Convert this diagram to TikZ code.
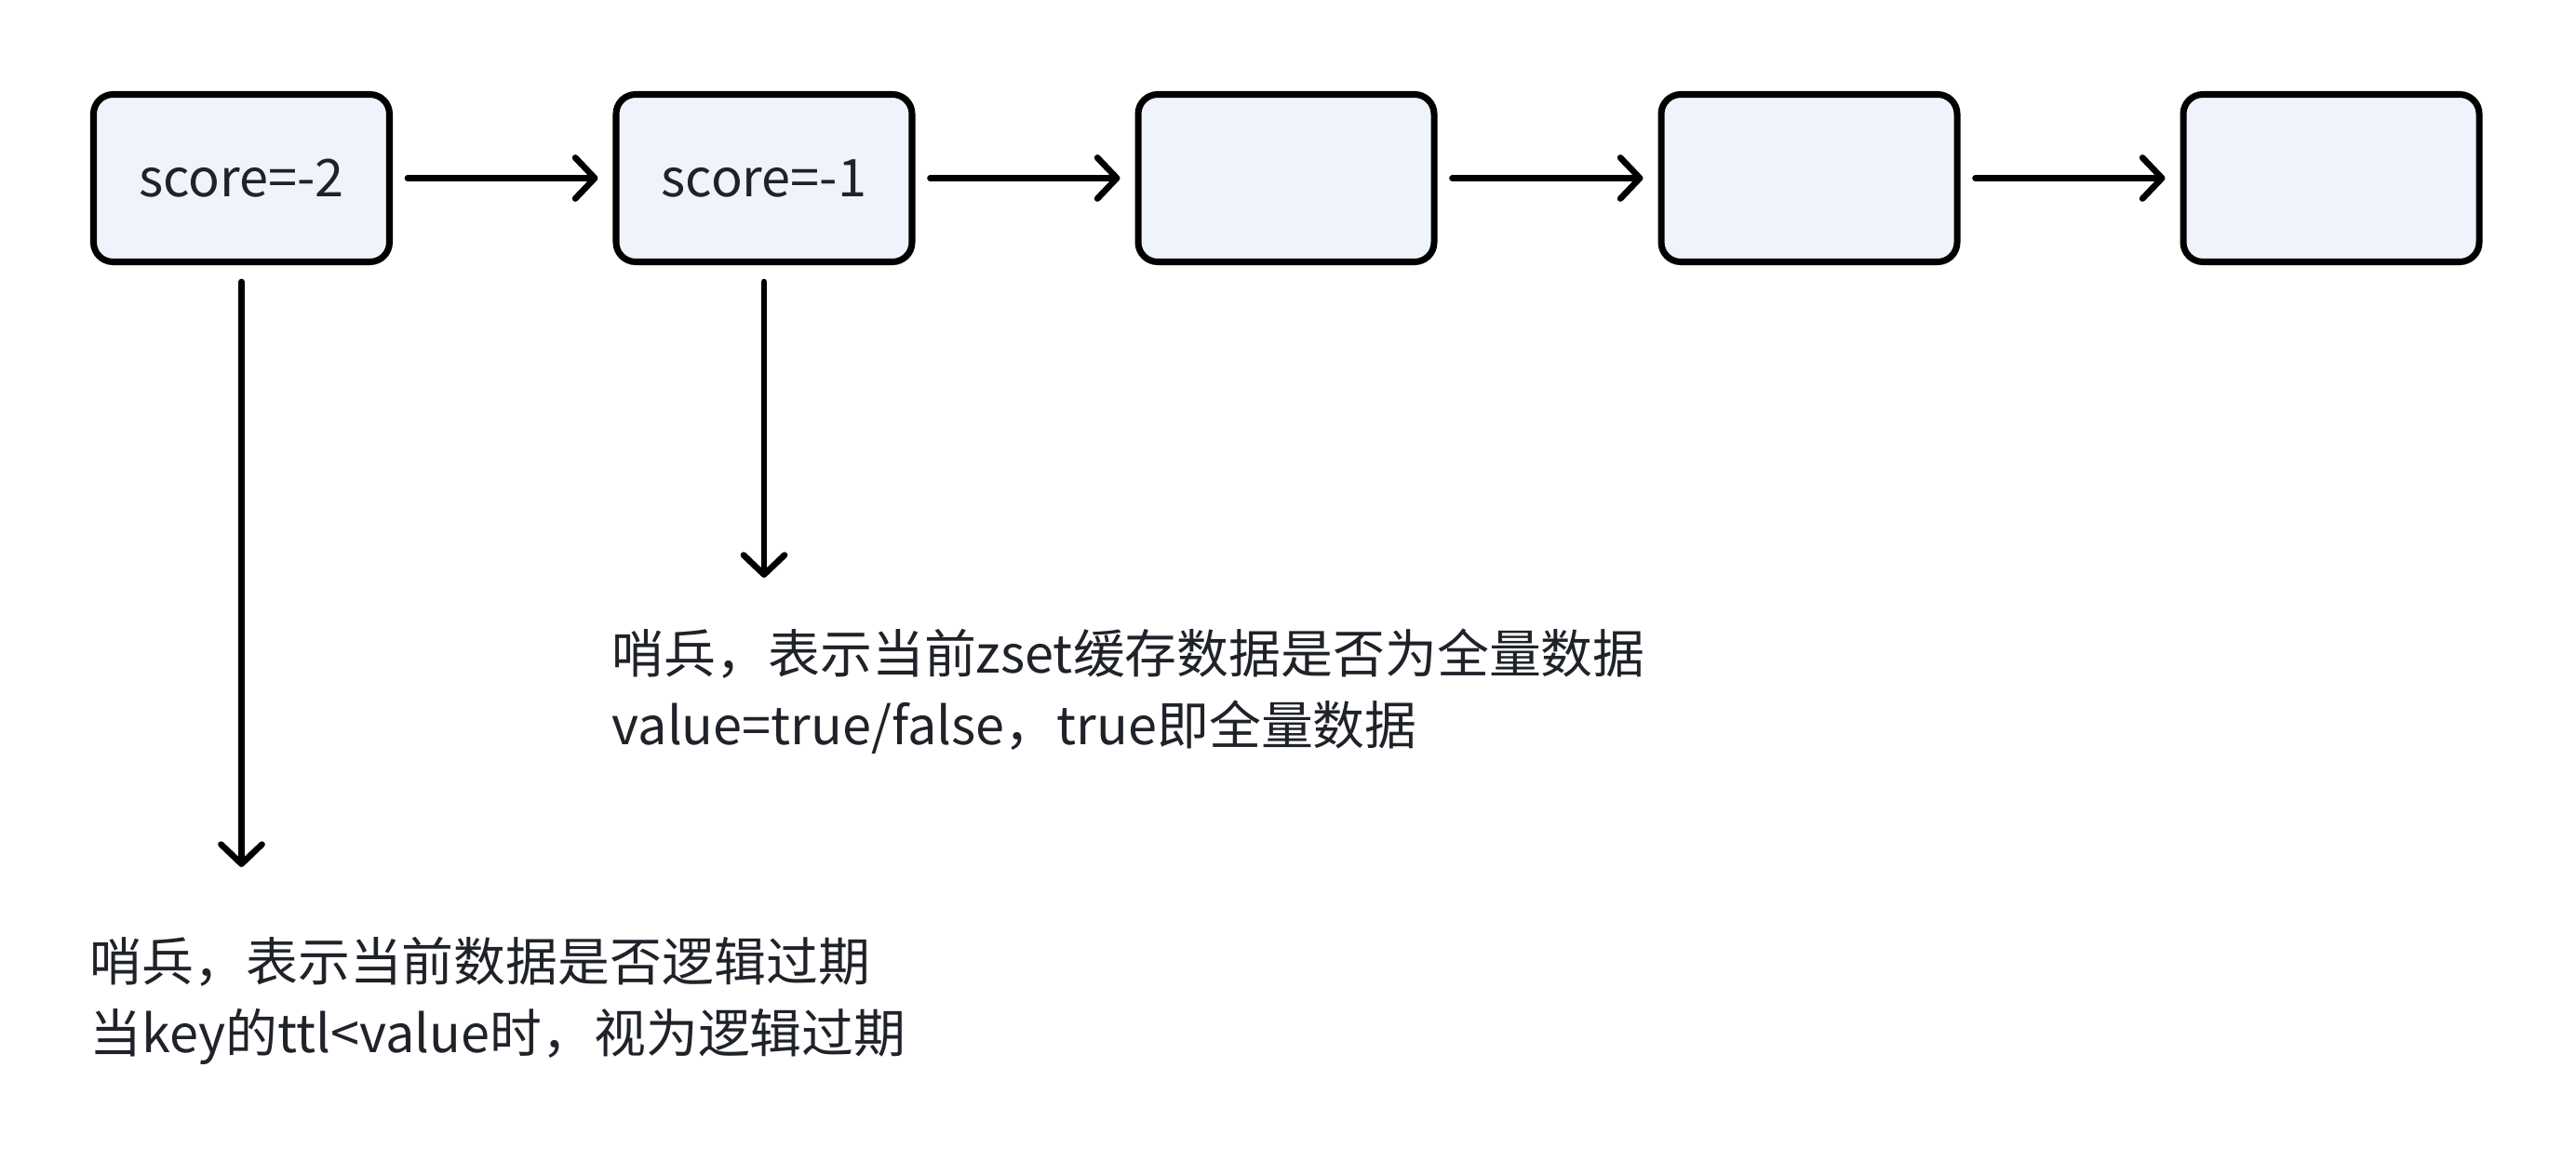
\documentclass[tikz,border=0pt]{standalone}
\usepackage{fontspec}
\setmainfont{Noto Sans CJK SC}
\usetikzlibrary{arrows.meta}
\definecolor{boxfill}{HTML}{EFF4FC}
\definecolor{inkgray}{HTML}{1F2329}

\begin{document}
\begin{tikzpicture}[font={\fontsize{15.9pt}{22pt}\selectfont}, text=inkgray,
every node/.style={inner sep=0pt},
cell/.style={draw=black, line width=2pt, rounded corners=0.21cm, fill=boxfill,
minimum width=3.18cm, minimum height=1.8cm},
note/.style={align=left, anchor=west},
]
\useasboundingbox (0,0) rectangle (27.68,-12.48);

\node[cell] (b1) at (2.595,-1.915) {score=-2};
\node[cell] (b2) at (8.21,-1.915) {score=-1};
\node[cell] (b3) at (13.82,-1.915) {};
\node[cell] (b4) at (19.44,-1.915) {};
\node[cell] (b5) at (25.05,-1.915) {};

\coordinate (e1) at (2.595,-9.32);
\coordinate (e2) at (8.21,-6.21);

\node[note] (t2) at (6.57,-7.43) {哨兵，表示当前zset缓存数据是否为全量数据\\value=true/false，true即全量数据};
\node[note] (t1) at (0.96,-10.76) {哨兵，表示当前数据是否逻辑过期\\当key的ttl<value时，视为逻辑过期};

% linked list
\begin{scope}[-{Straight Barb[length=2.1mm, width=4.4mm, line cap=round, line join=round]},
line width=1.9pt, line cap=round, shorten <=0.16cm, shorten >=0.16cm]
\draw (b1) -- (b2);
\draw (b2) -- (b3);
\draw (b3) -- (b4);
\draw (b4) -- (b5);
\end{scope}

% sentinel pointers
\begin{scope}[-{Straight Barb[length=2.1mm, width=4.4mm, line cap=round, line join=round]},
line width=1.9pt, line cap=round, shorten <=0.18cm]
\draw (b1.south) -- (e1);
\draw (b2.south) -- (e2);
\end{scope}

\end{tikzpicture}
\end{document}
